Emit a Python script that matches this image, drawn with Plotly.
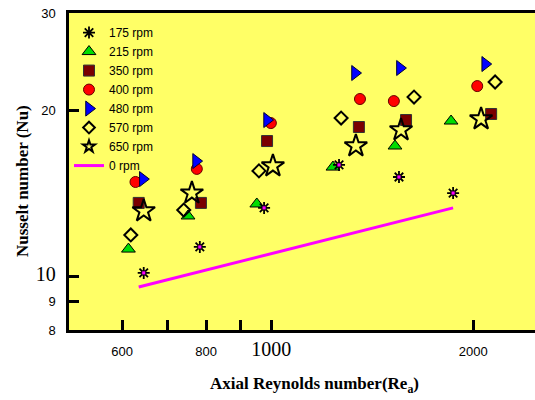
import plotly.graph_objects as go
import math

# ---- data ----
re_175 = [646, 783, 976, 1262, 1550, 1866]
nu_175 = [10.15, 11.31, 13.31, 15.92, 15.14, 14.16]
re_215 = [613, 752, 952, 1236, 1529, 1853]
nu_215 = [11.21, 12.87, 13.53, 15.78, 17.23, 19.12]
re_350 = [635, 786, 986, 1351, 1588, 2126]
nu_350 = [13.59, 13.59, 17.59, 18.65, 19.20, 19.69]
re_400 = [628, 775, 999, 1356, 1523, 2027]
nu_400 = [14.83, 15.66, 18.96, 20.96, 20.78, 22.12]
re_480 = [644, 773, 986, 1333, 1555, 2083]
nu_480 = [15.01, 16.18, 19.20, 23.36, 23.85, 24.25]
re_570 = [618, 741, 959, 1271, 1632, 2155]
nu_570 = [11.89, 13.19, 15.53, 19.36, 21.13, 22.50]
re_650 = [646, 762, 1006, 1337, 1561, 2054]
nu_650 = [13.14, 14.16, 15.85, 17.23, 18.42, 19.28]
re_0 = [635, 1866]
nu_0 = [9.57, 13.31]

x_tickvals = [600, 800, 1000, 2000]
x_ticktext = ["600", "800",
              '<span style="font-family:Liberation Serif;font-size:20px">1000</span>', "2000"]
x_minorvals = [700, 900]
y_tickvals = [8, 9, 10, 20, 30]
y_ticktext = ["8", "9", '<span style="font-family:Liberation Serif;font-size:20px">10</span>', "20", "30"]

XR = [math.log10(500), math.log10(2471)]
YR = [math.log10(8), math.log10(30)]

fig = go.Figure()
SANS = "Liberation Sans Narrow, Arial Narrow, Liberation Sans, Arial"

styles = {
    "215": dict(symbol="triangle-up", size=12, color="#00dd00", line=dict(color="black", width=1)),
    "350": dict(symbol="square", size=11, color="#7a0000", line=dict(color="#333", width=1)),
    "400": dict(symbol="circle", size=11, color="#ff0000", line=dict(color="#660000", width=1)),
    "480": dict(symbol="triangle-right", size=13, color="#0000ff", line=dict(color="#000033", width=1)),
    "570": dict(symbol="diamond-open", size=10, color="black", line=dict(color="black", width=2)),
    "650": dict(symbol="star-open", size=17, color="black", line=dict(color="black", width=2)),
    "175": dict(symbol="asterisk-open", size=10, color="black", line=dict(color="black", width=1.8)),
}
legend_styles = dict(styles)
legend_styles["650"] = dict(symbol="star-open", size=9, color="black", line=dict(color="black", width=2))
legend_styles["570"] = dict(symbol="diamond-open", size=9, color="black", line=dict(color="black", width=2))

series = [("215", re_215, nu_215), ("350", re_350, nu_350), ("400", re_400, nu_400),
          ("480", re_480, nu_480), ("570", re_570, nu_570), ("650", re_650, nu_650),
          ("175", re_175, nu_175)]

for key, x, y in series:
    fig.add_trace(go.Scatter(x=x, y=y, mode="markers", showlegend=False, marker=styles[key]))
    if key == "175":
        fig.add_trace(go.Scatter(x=x, y=y, mode="markers", showlegend=False,
                                 marker=dict(symbol="square", size=4, color="#ff00ff",
                                             line=dict(color="black", width=0.8))))

# legend entries (same styles, legend-size symbols)
order = ["175", "215", "350", "400", "480", "570", "650"]
for i, key in enumerate(order):
    fig.add_trace(go.Scatter(x=[None], y=[None], mode="markers", name=f"{key} rpm",
                             legendrank=i + 1, legendgroup="m", marker=legend_styles[key]))

fig.add_trace(go.Scatter(x=re_0, y=nu_0, mode="lines", name="0 rpm", legendrank=8,
                         legendgroup="l", line=dict(color="#ff00ff", width=3)))

fig.update_layout(
    width=535, height=400,
    margin=dict(l=69, r=0, t=13, b=70),
    paper_bgcolor="white", plot_bgcolor="#ffff66",
    font=dict(family="Liberation Sans, Arial", size=13, color="black"),
    showlegend=True,
    legend=dict(x=0, y=0.984, xanchor="left", yanchor="top", bgcolor="rgba(0,0,0,0)",
                font=dict(family=SANS, size=12, color="black"),
                traceorder="grouped", tracegroupgap=0),
    xaxis=dict(type="log", range=XR, tickvals=x_tickvals, ticktext=x_ticktext,
               ticks="inside", ticklen=10, tickwidth=2.5, tickcolor="black",
               minor=dict(tickmode="array", tickvals=x_minorvals, ticks="inside",
                          ticklen=10, tickwidth=2.5, tickcolor="black", showgrid=False),
               showline=True, linecolor="black", linewidth=2.5, mirror=True,
               showgrid=False, zeroline=False, ticklabelstandoff=8),
    yaxis=dict(type="log", range=YR, tickvals=y_tickvals, ticktext=y_ticktext,
               ticks="inside", ticklen=10, tickwidth=2.5, tickcolor="black",
               showline=True, linecolor="black", linewidth=2.5,
               showgrid=False, zeroline=False, ticklabelstandoff=8),
    xaxis2=dict(type="log", range=XR, overlaying="x", anchor="y", side="bottom",
                tickvals=[1000], ticks="inside", ticklen=20, tickwidth=2.5,
                tickcolor="black", showticklabels=False, showgrid=False,
                zeroline=False, showline=False),
    yaxis2=dict(type="log", range=YR, overlaying="y", anchor="x", side="left",
                tickvals=[10], ticks="inside", ticklen=20, tickwidth=2.5,
                tickcolor="black", showticklabels=False, showgrid=False,
                zeroline=False, showline=False),
    annotations=[
        dict(text="<b>Axial Reynolds number(Re<sub>a</sub>)</b>", xref="paper", yref="paper",
             x=0.527, y=0, yshift=-55, xanchor="center", yanchor="middle", showarrow=False,
             font=dict(family="Liberation Serif, Times New Roman", size=17, color="black")),
        dict(text="<b>Nusselt number (Nu)</b>", xref="paper", yref="paper",
             x=0, xshift=-47, y=0.47, xanchor="center", yanchor="middle", showarrow=False,
             textangle=-90,
             font=dict(family="Liberation Serif, Times New Roman", size=17, color="black")),
    ],
)

fig.write_html("out.html")
